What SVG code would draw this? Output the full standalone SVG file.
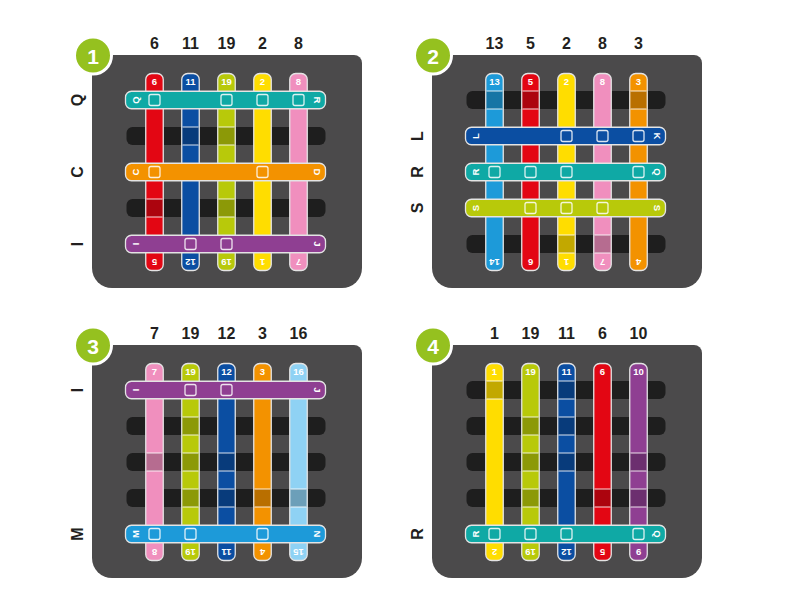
<svg xmlns="http://www.w3.org/2000/svg" width="794" height="614" viewBox="0 0 794 614">
<style>
.bg{fill:#4b4a4b}
.bar{fill:#1e1e1e}
.s{stroke:#e4e4e4;stroke-width:1.3}
.sq{fill:none;stroke:#fff;stroke-opacity:.85;stroke-width:1.3}
.dk{fill:#000;fill-opacity:.24}
.ln{stroke:#fff;stroke-opacity:.85;stroke-width:1.2;fill:none}
.hd{font-family:"Liberation Sans",Arial,sans-serif;font-size:16px;font-weight:bold;fill:#231f20;text-anchor:middle}
.rl{font-family:"Liberation Sans",Arial,sans-serif;font-size:16px;font-weight:bold;fill:#231f20;text-anchor:middle;dominant-baseline:central}
.st{font-family:"Liberation Sans",Arial,sans-serif;font-size:9.5px;font-weight:bold;fill:#fff;text-anchor:middle;dominant-baseline:central}
.bd{font-family:"Liberation Sans",Arial,sans-serif;font-size:21px;font-weight:bold;fill:#fff;text-anchor:middle;dominant-baseline:central}
.badge{fill:#95c11f;stroke:#fff;stroke-width:3}
.red{fill:#e30613}.blue{fill:#0b4ea2}.lime{fill:#b8c90a}.yellow{fill:#ffdd00}.pink{fill:#f08fbe}
.cyan{fill:#0fa9a5}.orange{fill:#f39200}.purple{fill:#8f3f92}.lblue{fill:#1d9ad9}.sky{fill:#8fd2f4}
</style>
<defs>
<path id="panelbg" d="M100,55 H354 A8,8 0 0 1 362,63 V268 A20,20 0 0 1 342,288 H112 A20,20 0 0 1 92,268 V63 A8,8 0 0 1 100,55 Z"/>
<rect id="vs" x="-8.75" y="73.5" width="17.5" height="197" rx="6"/>
<rect id="hs" x="125.5" y="-8.75" width="200" height="17.5" rx="6"/>
<rect id="bar" x="126.5" y="-9" width="199" height="18" rx="6"/>
<rect id="sqr" x="-5.5" y="-5.5" width="11" height="11" rx="2"/>
<g id="dark"><rect class="dk" x="-8" y="-9" width="16" height="18"/><path class="ln" d="M-8,-9 h16 M-8,9 h16"/></g>
</defs>

<!-- PANEL 1 -->
<g id="panel1">
<use href="#panelbg" class="bg"/>
<g id="p1-bars" class="bar"><use href="#bar" y="136"/><use href="#bar" y="208"/></g>
<g id="p1-cols" class="hd"><text x="154.5" y="49">6</text><text x="190.5" y="49">11</text><text x="226.5" y="49">19</text><text x="262.5" y="49">2</text><text x="298.5" y="49">8</text></g>
<g id="p1-rows" class="rl"><text transform="translate(77.5,100) rotate(-90)">Q</text><text transform="translate(77.5,172) rotate(-90)">C</text><text transform="translate(77.5,244) rotate(-90)">I</text></g>
<g id="p1-v6" transform="translate(154.5,0)"><use href="#vs" class="red s"/><use href="#dark" y="208"/><text class="st" y="81.5">6</text><text class="st" transform="translate(0,262.5) rotate(180)">5</text></g>
<g id="p1-v11" transform="translate(190.5,0)"><use href="#vs" class="blue s"/><use href="#dark" y="136"/><text class="st" y="81.5">11</text><text class="st" transform="translate(0,262.5) rotate(180)">12</text></g>
<g id="p1-v19" transform="translate(226.5,0)"><use href="#vs" class="lime s"/><use href="#dark" y="136"/><use href="#dark" y="208"/><text class="st" y="81.5">19</text><text class="st" transform="translate(0,262.5) rotate(180)">19</text></g>
<g id="p1-v2" transform="translate(262.5,0)"><use href="#vs" class="yellow s"/><text class="st" y="81.5">2</text><text class="st" transform="translate(0,262.5) rotate(180)">1</text></g>
<g id="p1-v8" transform="translate(298.5,0)"><use href="#vs" class="pink s"/><text class="st" y="81.5">8</text><text class="st" transform="translate(0,262.5) rotate(180)">7</text></g>
<g id="p1-hQ" transform="translate(0,100)"><use href="#hs" class="cyan s"/><g class="sq"><use href="#sqr" x="154.5"/><use href="#sqr" x="226.5"/><use href="#sqr" x="262.5"/><use href="#sqr" x="298.5"/></g><text class="st" transform="translate(135,0) rotate(-90)">Q</text><text class="st" transform="translate(317,0) rotate(90)">R</text></g>
<g id="p1-hC" transform="translate(0,172)"><use href="#hs" class="orange s"/><g class="sq"><use href="#sqr" x="154.5"/><use href="#sqr" x="262.5"/></g><text class="st" transform="translate(135,0) rotate(-90)">C</text><text class="st" transform="translate(317,0) rotate(90)">D</text></g>
<g id="p1-hI" transform="translate(0,244)"><use href="#hs" class="purple s"/><g class="sq"><use href="#sqr" x="190.5"/><use href="#sqr" x="226.5"/></g><text class="st" transform="translate(135,0) rotate(-90)">I</text><text class="st" transform="translate(317,0) rotate(90)">J</text></g>
<g id="p1-badge"><circle class="badge" cx="93" cy="55.5" r="18.5"/><text class="bd" x="93" y="56">1</text></g>
</g>

<!-- PANEL 2 -->
<g id="panel2" transform="translate(340,0)">
<use href="#panelbg" class="bg"/>
<g id="p2-bars" class="bar"><use href="#bar" y="100"/><use href="#bar" y="244"/></g>
<g id="p2-cols" class="hd"><text x="154.5" y="49">13</text><text x="190.5" y="49">5</text><text x="226.5" y="49">2</text><text x="262.5" y="49">8</text><text x="298.5" y="49">3</text></g>
<g id="p2-rows" class="rl"><text transform="translate(77.5,136) rotate(-90)">L</text><text transform="translate(77.5,172) rotate(-90)">R</text><text transform="translate(77.5,208) rotate(-90)">S</text></g>
<g id="p2-v13" transform="translate(154.5,0)"><use href="#vs" class="lblue s"/><use href="#dark" y="100"/><text class="st" y="81.5">13</text><text class="st" transform="translate(0,262.5) rotate(180)">14</text></g>
<g id="p2-v5" transform="translate(190.5,0)"><use href="#vs" class="red s"/><use href="#dark" y="100"/><text class="st" y="81.5">5</text><text class="st" transform="translate(0,262.5) rotate(180)">6</text></g>
<g id="p2-v2" transform="translate(226.5,0)"><use href="#vs" class="yellow s"/><use href="#dark" y="244"/><text class="st" y="81.5">2</text><text class="st" transform="translate(0,262.5) rotate(180)">1</text></g>
<g id="p2-v8" transform="translate(262.5,0)"><use href="#vs" class="pink s"/><use href="#dark" y="244"/><text class="st" y="81.5">8</text><text class="st" transform="translate(0,262.5) rotate(180)">7</text></g>
<g id="p2-v3" transform="translate(298.5,0)"><use href="#vs" class="orange s"/><use href="#dark" y="100"/><text class="st" y="81.5">3</text><text class="st" transform="translate(0,262.5) rotate(180)">4</text></g>
<g id="p2-hL" transform="translate(0,136)"><use href="#hs" class="blue s"/><g class="sq"><use href="#sqr" x="226.5"/><use href="#sqr" x="262.5"/><use href="#sqr" x="298.5"/></g><text class="st" transform="translate(135,0) rotate(-90)">L</text><text class="st" transform="translate(317,0) rotate(90)">K</text></g>
<g id="p2-hR" transform="translate(0,172)"><use href="#hs" class="cyan s"/><g class="sq"><use href="#sqr" x="154.5"/><use href="#sqr" x="190.5"/><use href="#sqr" x="226.5"/><use href="#sqr" x="298.5"/></g><text class="st" transform="translate(135,0) rotate(-90)">R</text><text class="st" transform="translate(317,0) rotate(90)">Q</text></g>
<g id="p2-hS" transform="translate(0,208)"><use href="#hs" class="lime s"/><g class="sq"><use href="#sqr" x="190.5"/><use href="#sqr" x="226.5"/><use href="#sqr" x="262.5"/></g><text class="st" transform="translate(135,0) rotate(-90)">S</text><text class="st" transform="translate(317,0) rotate(90)">S</text></g>
<g id="p2-badge"><circle class="badge" cx="93" cy="55.5" r="18.5"/><text class="bd" x="93" y="56">2</text></g>
</g>

<!-- PANEL 3 -->
<g id="panel3" transform="translate(0,290)">
<use href="#panelbg" class="bg"/>
<g id="p3-bars" class="bar"><use href="#bar" y="136"/><use href="#bar" y="172"/><use href="#bar" y="208"/></g>
<g id="p3-cols" class="hd"><text x="154.5" y="49">7</text><text x="190.5" y="49">19</text><text x="226.5" y="49">12</text><text x="262.5" y="49">3</text><text x="298.5" y="49">16</text></g>
<g id="p3-rows" class="rl"><text transform="translate(77.5,100) rotate(-90)">I</text><text transform="translate(77.5,244) rotate(-90)">M</text></g>
<g id="p3-v7" transform="translate(154.5,0)"><use href="#vs" class="pink s"/><use href="#dark" y="172"/><text class="st" y="81.5">7</text><text class="st" transform="translate(0,262.5) rotate(180)">8</text></g>
<g id="p3-v19" transform="translate(190.5,0)"><use href="#vs" class="lime s"/><use href="#dark" y="136"/><use href="#dark" y="172"/><use href="#dark" y="208"/><text class="st" y="81.5">19</text><text class="st" transform="translate(0,262.5) rotate(180)">19</text></g>
<g id="p3-v12" transform="translate(226.5,0)"><use href="#vs" class="blue s"/><use href="#dark" y="172"/><use href="#dark" y="208"/><text class="st" y="81.5">12</text><text class="st" transform="translate(0,262.5) rotate(180)">11</text></g>
<g id="p3-v3" transform="translate(262.5,0)"><use href="#vs" class="orange s"/><use href="#dark" y="208"/><text class="st" y="81.5">3</text><text class="st" transform="translate(0,262.5) rotate(180)">4</text></g>
<g id="p3-v16" transform="translate(298.5,0)"><use href="#vs" class="sky s"/><use href="#dark" y="208"/><text class="st" y="81.5">16</text><text class="st" transform="translate(0,262.5) rotate(180)">15</text></g>
<g id="p3-hI" transform="translate(0,100)"><use href="#hs" class="purple s"/><g class="sq"><use href="#sqr" x="190.5"/><use href="#sqr" x="226.5"/></g><text class="st" transform="translate(135,0) rotate(-90)">I</text><text class="st" transform="translate(317,0) rotate(90)">J</text></g>
<g id="p3-hM" transform="translate(0,244)"><use href="#hs" class="lblue s"/><g class="sq"><use href="#sqr" x="154.5"/><use href="#sqr" x="190.5"/><use href="#sqr" x="262.5"/></g><text class="st" transform="translate(135,0) rotate(-90)">M</text><text class="st" transform="translate(317,0) rotate(90)">N</text></g>
<g id="p3-badge"><circle class="badge" cx="93" cy="55.5" r="18.5"/><text class="bd" x="93" y="56">3</text></g>
</g>

<!-- PANEL 4 -->
<g id="panel4" transform="translate(340,290)">
<use href="#panelbg" class="bg"/>
<g id="p4-bars" class="bar"><use href="#bar" y="100"/><use href="#bar" y="136"/><use href="#bar" y="172"/><use href="#bar" y="208"/></g>
<g id="p4-cols" class="hd"><text x="154.5" y="49">1</text><text x="190.5" y="49">19</text><text x="226.5" y="49">11</text><text x="262.5" y="49">6</text><text x="298.5" y="49">10</text></g>
<g id="p4-rows" class="rl"><text transform="translate(77.5,244) rotate(-90)">R</text></g>
<g id="p4-v1" transform="translate(154.5,0)"><use href="#vs" class="yellow s"/><use href="#dark" y="100"/><text class="st" y="81.5">1</text><text class="st" transform="translate(0,262.5) rotate(180)">2</text></g>
<g id="p4-v19" transform="translate(190.5,0)"><use href="#vs" class="lime s"/><use href="#dark" y="136"/><use href="#dark" y="172"/><use href="#dark" y="208"/><text class="st" y="81.5">19</text><text class="st" transform="translate(0,262.5) rotate(180)">19</text></g>
<g id="p4-v11" transform="translate(226.5,0)"><use href="#vs" class="blue s"/><use href="#dark" y="100"/><use href="#dark" y="136"/><use href="#dark" y="172"/><text class="st" y="81.5">11</text><text class="st" transform="translate(0,262.5) rotate(180)">12</text></g>
<g id="p4-v6" transform="translate(262.5,0)"><use href="#vs" class="red s"/><use href="#dark" y="208"/><text class="st" y="81.5">6</text><text class="st" transform="translate(0,262.5) rotate(180)">5</text></g>
<g id="p4-v10" transform="translate(298.5,0)"><use href="#vs" class="purple s"/><use href="#dark" y="172"/><use href="#dark" y="208"/><text class="st" y="81.5">10</text><text class="st" transform="translate(0,262.5) rotate(180)">9</text></g>
<g id="p4-hR" transform="translate(0,244)"><use href="#hs" class="cyan s"/><g class="sq"><use href="#sqr" x="154.5"/><use href="#sqr" x="190.5"/><use href="#sqr" x="226.5"/><use href="#sqr" x="298.5"/></g><text class="st" transform="translate(135,0) rotate(-90)">R</text><text class="st" transform="translate(317,0) rotate(90)">Q</text></g>
<g id="p4-badge"><circle class="badge" cx="93" cy="55.5" r="18.5"/><text class="bd" x="93" y="56">4</text></g>
</g>
</svg>
